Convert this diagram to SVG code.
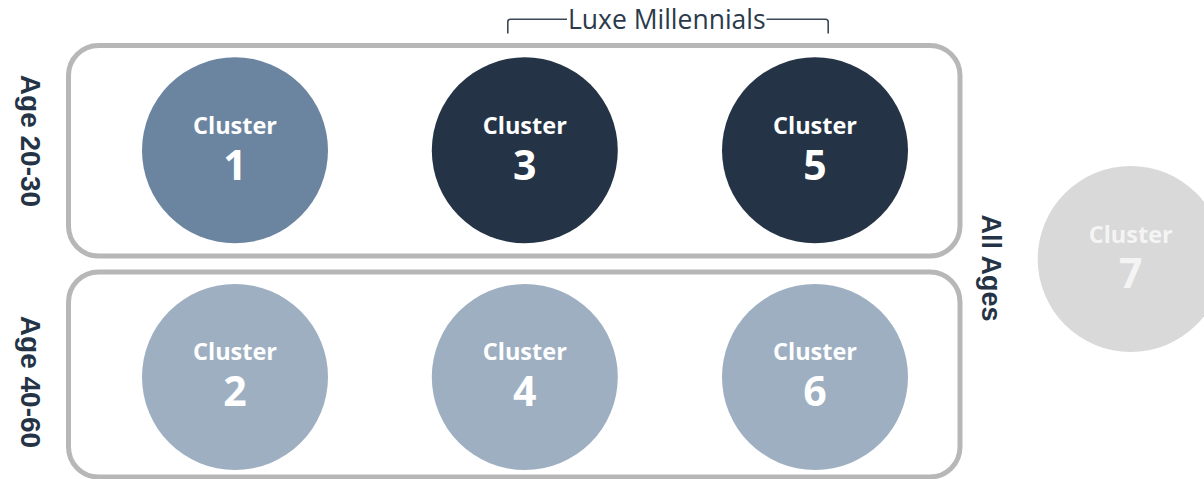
<svg xmlns="http://www.w3.org/2000/svg" width="1204" height="479" viewBox="0 0 1204 479">
  <style>
    .band { fill: #ffffff; stroke: #b7b7b7; stroke-width: 5; }
    .c-mid { fill: #6b85a1; }
    .c-dark { fill: #243446; }
    .c-light { fill: #9eafc2; }
    .c-grey { fill: #d9d9d9; }
    .word { font-family: "Open Sans", "Liberation Sans", sans-serif; font-weight: 700; font-size: 23.5px; fill: #ffffff; text-anchor: middle; }
    .num { font-family: "Open Sans", "Liberation Sans", sans-serif; font-weight: 700; font-size: 41px; fill: #ffffff; text-anchor: middle; }
    .faint { fill: #f4f4f4; }
    .side { font-family: "Liberation Sans", Arial, sans-serif; font-weight: 700; font-size: 28px; fill: #243446; text-anchor: middle; }
    .title { font-family: "Open Sans", "Liberation Sans", sans-serif; font-size: 26.5px; fill: #2b3a4b; text-anchor: middle; }
    .bracket { fill: none; stroke: #3a4858; stroke-width: 1.6; }
  </style>

  <!-- age bands -->
  <g id="band-20-30">
    <rect class="band" x="68.5" y="45.5" width="891.5" height="210.5" rx="30" ry="30"/>
    <text class="side" transform="translate(21 141) rotate(90)">Age 20-30</text>
  </g>
  <g id="band-40-60">
    <rect class="band" x="68.5" y="272" width="891.5" height="205" rx="30" ry="30"/>
    <text class="side" transform="translate(21 382) rotate(90)">Age 40-60</text>
  </g>
  <g id="label-all-ages">
    <text class="side" style="font-size:27px" transform="translate(981.5 268) rotate(90)">All Ages</text>
  </g>

  <!-- segment bracket -->
  <g id="connectors">
    <path class="bracket" d="M507.8 33.5 V22 Q507.8 19.3 510.5 19.3 H567"/>
    <path class="bracket" d="M766.5 19.3 H825.5 Q828.2 19.3 828.2 22 V33.5"/>
  </g>
  <g id="label-luxe">
    <text class="title" x="666.8" y="29.3">Luxe Millennials</text>
  </g>

  <!-- clusters -->
  <g id="cluster-1">
    <circle class="c-mid" cx="235" cy="150.3" r="93"/>
    <text class="word" x="235" y="134">Cluster</text>
    <text class="num" x="235" y="180">1</text>
  </g>
  <g id="cluster-3">
    <circle class="c-dark" cx="524.8" cy="150.3" r="93"/>
    <text class="word" x="524.8" y="134">Cluster</text>
    <text class="num" x="524.8" y="180">3</text>
  </g>
  <g id="cluster-5">
    <circle class="c-dark" cx="815" cy="150.3" r="93"/>
    <text class="word" x="815" y="134">Cluster</text>
    <text class="num" x="815" y="180">5</text>
  </g>
  <g id="cluster-2">
    <circle class="c-light" cx="235" cy="377" r="93"/>
    <text class="word" x="235" y="360">Cluster</text>
    <text class="num" x="235" y="406">2</text>
  </g>
  <g id="cluster-4">
    <circle class="c-light" cx="524.8" cy="377" r="93"/>
    <text class="word" x="524.8" y="360">Cluster</text>
    <text class="num" x="524.8" y="406">4</text>
  </g>
  <g id="cluster-6">
    <circle class="c-light" cx="815" cy="377" r="93"/>
    <text class="word" x="815" y="360">Cluster</text>
    <text class="num" x="815" y="406">6</text>
  </g>
  <g id="cluster-7">
    <circle class="c-grey" cx="1130.7" cy="259" r="93"/>
    <text class="word faint" x="1130.7" y="243">Cluster</text>
    <text class="num faint" x="1130.7" y="288">7</text>
  </g>
</svg>
